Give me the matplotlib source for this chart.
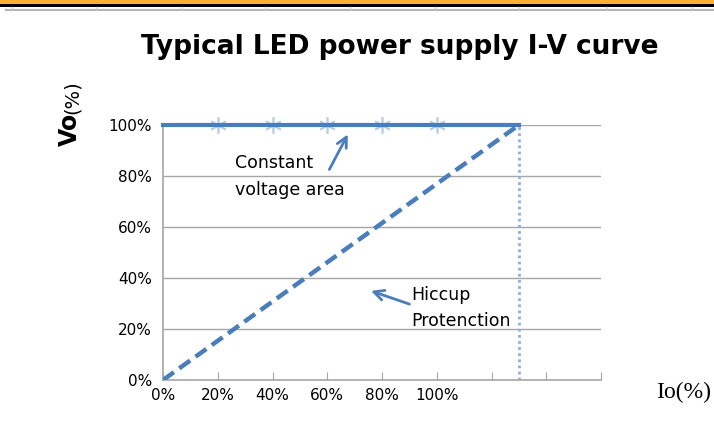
import matplotlib.pyplot as plt
from matplotlib.patches import Rectangle
from matplotlib.lines import Line2D

# data
io_cv = [0, 130]
vo_cv = [100, 100]
io_hiccup = [0, 130]
vo_hiccup = [0, 100]
io_marks = [20, 40, 60, 80, 100]
vo_marks = [100, 100, 100, 100, 100]
io_limit = 130
x_ticks = [0, 20, 40, 60, 80, 100, 120, 140, 160]
x_labels = ['0%', '20%', '40%', '60%', '80%', '100%', '', '', '']
y_ticks = [0, 20, 40, 60, 80, 100]
y_labels = ['0%', '20%', '40%', '60%', '80%', '100%']

BLUE = '#4a7ebb'
LIGHT = '#b9cde5'
GRID = '#a6a6a6'

fig = plt.figure(figsize=(7.14, 4.21), dpi=100)

# spreadsheet strip at the top
fig.add_artist(Rectangle((0, 1 - 4 / 421), 1, 4 / 421, transform=fig.transFigure,
                         color='#fbb034', lw=0))
fig.add_artist(Rectangle((0, 1 - 6.5 / 421), 1, 2.5 / 421, transform=fig.transFigure,
                         color='black', lw=0))
fig.add_artist(Line2D([6 / 714, 1], [1 - 9.5 / 421] * 2, transform=fig.transFigure,
                      color='#b4b4b4', lw=1.5))
for px in [12, 96, 181, 266, 350, 435, 519, 607, 692]:
    fig.add_artist(Line2D([px / 714] * 2, [1 - 9 / 421, 1 - 6.5 / 421],
                          transform=fig.transFigure, color='#d0d0d0', lw=1))

ax = fig.add_axes([163 / 714, 1 - 380 / 421, 438 / 714, 255 / 421])
ax.set_xlim(0, 160)
ax.set_ylim(0, 100)

for y in y_ticks[1:]:
    ax.axhline(y, color=GRID, lw=1, zorder=1)

ax.plot(io_hiccup, vo_hiccup, color=BLUE, lw=3.2, ls=(0, (3, 1.5)),
        solid_capstyle='butt', zorder=3)
ax.plot(io_cv, vo_cv, color=BLUE, lw=3, zorder=4, clip_on=False)
ax.plot(io_marks, vo_marks, ls='none', marker=(6, 2, 0), ms=12,
        mec=LIGHT, mew=1.2, zorder=3, clip_on=False)
ax.plot([io_limit, io_limit], [0, 100], color='#8eb0dc', lw=2,
        ls=(0, (1, 1.2)), zorder=2)

ax.annotate('', xy=(68, 97.3), xytext=(60.3, 81.6),
            arrowprops=dict(arrowstyle='->', color=BLUE, lw=2,
                            mutation_scale=18))
ax.annotate('', xy=(75, 35.3), xytext=(91, 29.4),
            arrowprops=dict(arrowstyle='->', color=BLUE, lw=2,
                            mutation_scale=18))
ax.text(26.3, 85.1, 'Constant', fontsize=12.5, va='center', ha='left')
ax.text(26.3, 74.5, 'voltage area', fontsize=12.5, va='center', ha='left')
ax.text(90.6, 33.3, 'Hiccup', fontsize=12.5, va='center', ha='left')
ax.text(90.6, 23.1, 'Protenction', fontsize=12.5, va='center', ha='left')

ax.set_xticks(x_ticks)
ax.set_xticklabels(x_labels, fontsize=11)
ax.set_yticks(y_ticks)
ax.set_yticklabels(y_labels, fontsize=11)
ax.tick_params(axis='x', direction='in', length=6, color=GRID, pad=6)
ax.tick_params(axis='y', length=0, pad=8)
for s in ['top', 'right']:
    ax.spines[s].set_visible(False)
for s in ['left', 'bottom']:
    ax.spines[s].set_color(GRID)
    ax.spines[s].set_linewidth(1.2)

fig.text(400 / 714, 1 - 47 / 421, 'Typical LED power supply I-V curve',
         fontsize=19, fontweight='bold', ha='center', va='center')
fig.text(77 / 714, 1 - 129 / 421, 'Vo', fontsize=17, fontweight='bold',
         rotation=90, rotation_mode='anchor', ha='center', va='baseline')
fig.text(78 / 714, 1 - 97 / 421, '(%)', fontsize=14,
         rotation=90, rotation_mode='anchor', ha='center', va='baseline')
fig.text(684 / 714, 1 - 392 / 421, 'Io(%)', fontsize=17,
         family='Liberation Serif', ha='center', va='center')

fig.savefig('out.png', dpi=100)
